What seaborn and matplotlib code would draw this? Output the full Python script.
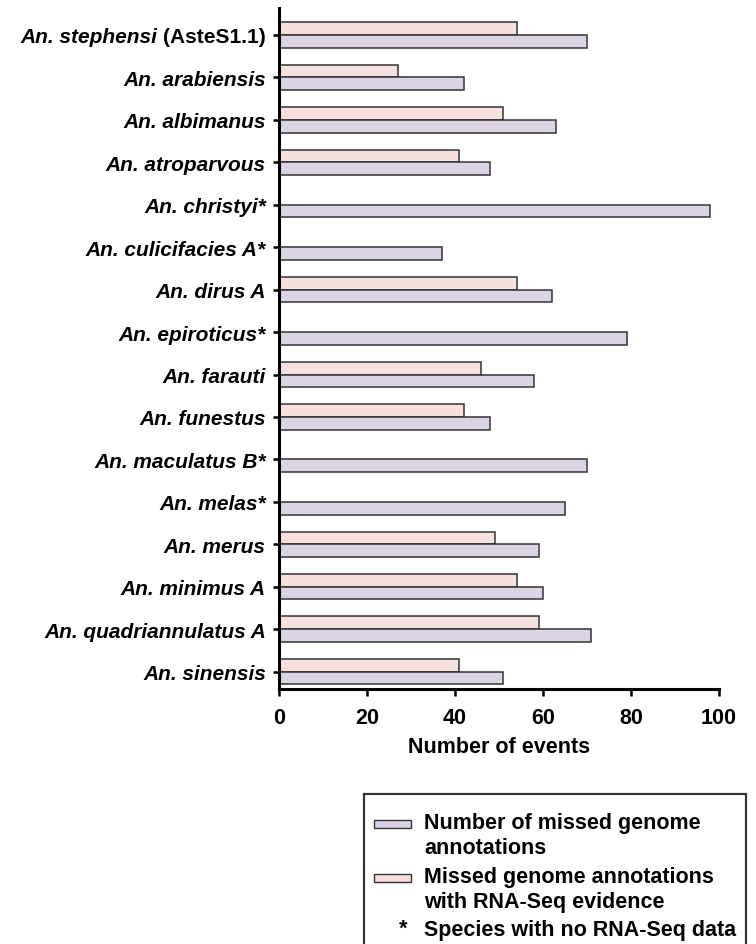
import numpy as np
import pandas as pd
import matplotlib
matplotlib.use("Agg")
import matplotlib.pyplot as plt
from matplotlib.patches import Patch, Rectangle
from matplotlib.lines import Line2D
from matplotlib.text import Text
from matplotlib.legend_handler import HandlerPatch, HandlerBase
import seaborn as sns

species = ["An. stephensi", "An. arabiensis", "An. albimanus", "An. atroparvous",
           "An. christyi*", "An. culicifacies A*", "An. dirus A", "An. epiroticus*",
           "An. farauti", "An. funestus", "An. maculatus B*", "An. melas*",
           "An. merus", "An. minimus A", "An. quadriannulatus A", "An. sinensis"]
missed = [70, 42, 63, 48, 98, 37, 62, 79, 58, 48, 70, 65, 59, 60, 71, 51]
rnaseq = [54, 27, 51, 41, np.nan, np.nan, 54, np.nan, 46, 42, np.nan, np.nan, 49, 54, 59, 41]
x_ticks = [0, 20, 40, 60, 80, 100]

lab_missed = "Number of missed genome\nannotations"
lab_rna = "Missed genome annotations\nwith RNA-Seq evidence"
lab_star = "Species with no RNA-Seq data"

purple = "#DCD0E8"
pink = "#FBDCDC"
edge = "#333333"

df = pd.DataFrame({
    "species": species * 2,
    "value": rnaseq + missed,
    "series": [lab_rna] * len(species) + [lab_missed] * len(species),
})

sns.set_style("ticks")
plt.rcParams["font.family"] = ["Liberation Sans", "DejaVu Sans"]
plt.rcParams["font.weight"] = "bold"
plt.rcParams["text.color"] = "black"
plt.rcParams["axes.labelcolor"] = "black"
plt.rcParams["xtick.color"] = "black"
plt.rcParams["ytick.color"] = "black"

fig = plt.figure(figsize=(7.56, 9.45), dpi=100)
ax = fig.add_axes([279 / 756, 1 - 690 / 945, (719 - 279) / 756, (690 - 9) / 945])

sns.barplot(data=df, y="species", x="value", hue="series",
            hue_order=[lab_rna, lab_missed], palette=[pink, purple],
            order=species, orient="h", width=0.6, errorbar=None,
            edgecolor=edge, linewidth=1.1, legend=False, ax=ax)

ax.set_xlim(0, 100)
ax.set_ylim(15.41, -0.636)
ax.set_xticks(x_ticks)
ax.set_xticklabels([str(t) for t in x_ticks], fontsize=15.5, fontweight="bold")
ax.set_ylabel("")
ax.set_xlabel("Number of events", fontsize=15.5, fontweight="bold", labelpad=6)

sns.despine(ax=ax)
for s in ["left", "bottom"]:
    ax.spines[s].set_linewidth(2.2)
    ax.spines[s].set_color("black")
ax.tick_params(axis="x", length=5, width=1.8, pad=8)
ax.tick_params(axis="y", length=4.5, width=1.8, pad=5)

ylabels = ["(AsteS1.1)"] + species[1:]
ax.set_yticks(range(len(species)))
ax.set_yticklabels(ylabels, fontsize=15, fontweight="bold")
tls = ax.get_yticklabels()
for i, t in enumerate(tls):
    t.set_fontstyle("normal" if i == 0 else "italic")

ax.annotate(species[0], xy=(0, 0.5), xycoords=tls[0], xytext=(-4, 0),
            textcoords="offset points", ha="right", va="center",
            fontsize=15, fontweight="bold", fontstyle="italic", color="black")

LEG_FS = 15.5
LINESP = 1.25


def top_line_patch(legend, orig_handle, xdescent, ydescent, width, height, fontsize):
    h = 0.38 * fontsize
    shift = 0.5 * LINESP * fontsize * 0.86
    return Rectangle((-xdescent, -ydescent + (height - h) / 2 + shift), width, h)


class StarHandler(HandlerBase):
    def create_artists(self, legend, orig_handle, xdescent, ydescent,
                       width, height, fontsize, trans):
        t = Text(x=-xdescent + width * 0.78, y=-ydescent + height * 0.5, text="*",
                 fontsize=fontsize, fontweight="bold", color="black",
                 ha="center", va="center", transform=trans)
        return [t]


handles = [
    Patch(facecolor=purple, edgecolor=edge, linewidth=1.0, label=lab_missed),
    Patch(facecolor=pink, edgecolor=edge, linewidth=1.0, label=lab_rna),
    Line2D([], [], ls="none", color="black", label=lab_star),
]
leg = fig.legend(handles=handles, loc="upper left",
                 bbox_to_anchor=(364 / 756, 1 - 795 / 945), borderaxespad=0,
                 frameon=True, fancybox=False, edgecolor="black",
                 prop={"size": LEG_FS, "weight": "bold"},
                 title=" ", title_fontsize=1,
                 handlelength=1.75, handleheight=0.7, handletextpad=0.6,
                 labelspacing=0.35, borderpad=0.45,
                 handler_map={Patch: HandlerPatch(patch_func=top_line_patch),
                              Line2D: StarHandler()})
leg.get_frame().set_linewidth(1.6)
for t in leg.get_texts():
    t.set_linespacing(LINESP)

fig.savefig("out.png", dpi=100)
